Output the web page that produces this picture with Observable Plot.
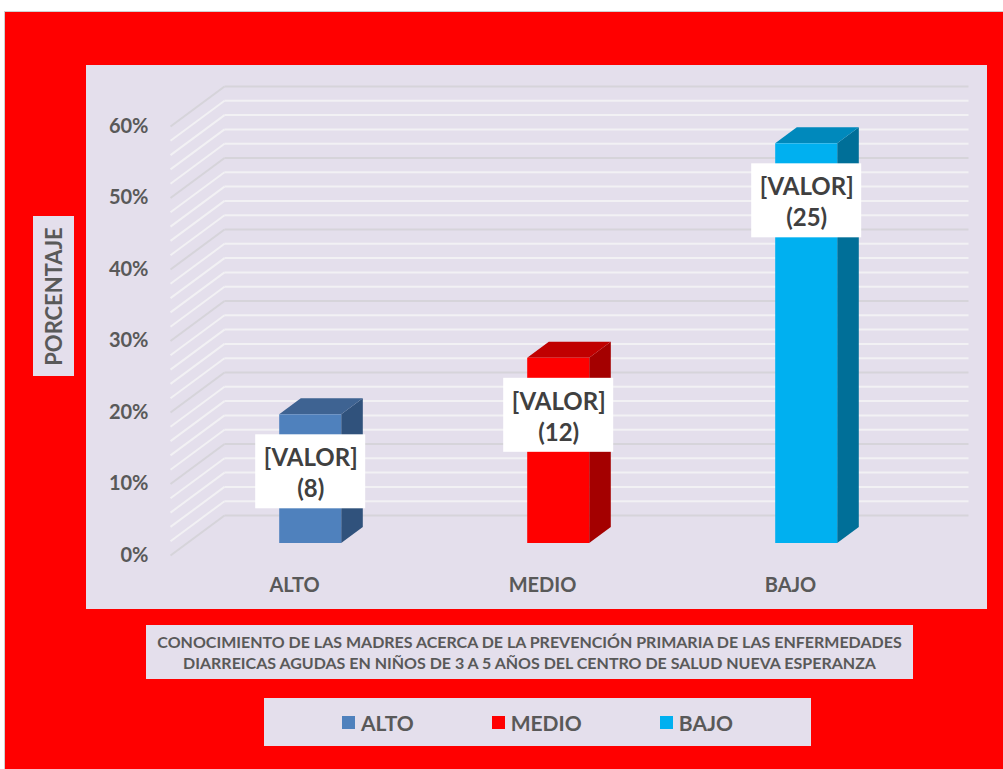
<!DOCTYPE html>
<html>
<head>
<meta charset="utf-8">
<script src="https://cdn.jsdelivr.net/npm/d3@7"></script>
<script src="https://cdn.jsdelivr.net/npm/@observablehq/plot@0.6"></script>
<style>
  html, body { margin: 0; padding: 0; background: #ffffff; }
  body { width: 1003px; height: 769px; position: relative; overflow: hidden; font-family: Lato, "Open Sans", sans-serif; }
  .abs { position: absolute; }
  #frame { left: 4px; top: 11px; width: 999px; height: 758px; background: #FF0000; border-top: 1px solid #D0D0D0; border-left: 1px solid #D0D0D0; box-sizing: border-box; }
  #panel { left: 86px; top: 65px; width: 901px; height: 544px; background: #E4DFEC; }
  #ylab { left: 33px; top: 216px; width: 41px; height: 160px; background: #E4DFEC; display: flex; align-items: center; justify-content: center; }
  #ylab span { transform: rotate(-90deg); white-space: nowrap; font-weight: 700; font-size: 22px; color: #595959; }
  #title { left: 146px; top: 625px; width: 767px; height: 54px; background: #E4DFEC; display: flex; flex-direction: column; align-items: center; justify-content: center; font-weight: 700; font-size: 16px; line-height: 21px; color: #595959; white-space: nowrap; }
  #legend { left: 264px; top: 698px; width: 547px; height: 48px; background: #E4DFEC; display: flex; align-items: center; justify-content: center; gap: 78px; }
  .item { display: flex; align-items: center; gap: 6px; font-weight: 700; font-size: 21px; color: #595959; }
  .sw { width: 13px; height: 13px; }
  #chart { left: 0; top: 0; }
</style>
</head>
<body>
<div id="frame" class="abs"></div>
<div id="panel" class="abs"></div>
<div id="ylab" class="abs"><span id="ylabtext"></span></div>
<div id="title" class="abs"></div>
<div id="legend" class="abs"></div>
<div id="chart" class="abs"></div>
<script>
// ---- data ----
const categories = ["ALTO", "MEDIO", "BAJO"];
const percentages = [18.0, 25.9, 55.9];
const counts = [8, 12, 25];
const yTicks = [0, 10, 20, 30, 40, 50, 60];
const frontColors = ["#4F81BD", "#FF0000", "#00B0F0"];
const sideColors = ["#30527C", "#A40000", "#006F98"];
const topColors = ["#3E6392", "#C00000", "#0089BC"];
const yTitle = "PORCENTAJE";
const titleLines = [
  "CONOCIMIENTO DE LAS MADRES ACERCA DE LA PREVENCIÓN PRIMARIA DE LAS ENFERMEDADES",
  "DIARREICAS AGUDAS EN NIÑOS DE 3 A 5 AÑOS DEL CENTRO DE SALUD NUEVA ESPERANZA"
];

// ---- 3D geometry (in data units of the scales) ----
const DX = 54 / 248;     // depth shift along x (category units)
const DY = 40 / 7.15;    // depth shift along y (percent units)
const F0 = 0.3, F1 = 0.7; // bar occupies depth 0.3..0.7
const HALF = 0.125;      // half bar width (category units)

const gridVals = d3.range(0, 61, 2);
const grid = gridVals.map(v => ({v, major: v % 10 === 0}));

const bars = categories.map((c, i) => {
  const cx = i + 0.5 + F0 * DX;
  return {c, i, v: percentages[i], n: counts[i], xl: cx - HALF, xr: cx + HALF, cx};
});

const marks = [];
// side wall diagonals and back wall lines
for (const major of [false, true]) {
  const g = grid.filter(d => d.major === major);
  const stroke = major ? "#D6D4DA" : "#F2F1F4";
  marks.push(Plot.link(g, {x1: 0, y1: d => d.v, x2: DX, y2: d => d.v + DY, stroke, strokeWidth: 2}));
  marks.push(Plot.link(g, {x1: DX, y1: d => d.v + DY, x2: 3 + DX, y2: d => d.v + DY, stroke, strokeWidth: 2}));
}
// bars
for (const b of bars) {
  marks.push(Plot.areaY([
    {x: b.xr, y1: F0 * DY, y2: b.v + F0 * DY},
    {x: b.xr + (F1 - F0) * DX, y1: F1 * DY, y2: b.v + F1 * DY}
  ], {x: "x", y1: "y1", y2: "y2", fill: sideColors[b.i]}));
  marks.push(Plot.areaX([
    {y: b.v + F0 * DY, x1: b.xl, x2: b.xr},
    {y: b.v + F1 * DY, x1: b.xl + (F1 - F0) * DX, x2: b.xr + (F1 - F0) * DX}
  ], {y: "y", x1: "x1", x2: "x2", fill: topColors[b.i]}));
  marks.push(Plot.rect([b], {x1: "xl", x2: "xr", y1: F0 * DY, y2: d => d.v + F0 * DY, fill: frontColors[b.i]}));
}
// data labels
marks.push(Plot.rect(bars, {x1: "cx", x2: "cx", y1: d => d.v + F0 * DY, y2: d => d.v + F0 * DY,
  insetLeft: -55, insetRight: -55, insetTop: -37, insetBottom: -37, dy: 57, fill: "white"}));
marks.push(Plot.text(bars, {x: "cx", y: d => d.v + F0 * DY, dy: 57, text: d => `[VALOR]\n(${d.n})`,
  fontSize: 24, fontWeight: 700, lineHeight: 1.3, fill: "#404040"}));
// category labels
marks.push(Plot.text(bars, {x: d => d.i + 0.5, y: 0, dy: 30, text: "c", fontSize: 20, fontWeight: 700, fill: "#595959"}));
// y axis
marks.push(Plot.axisY({ticks: yTicks, tickFormat: d => d + "%", tickSize: 0, tickPadding: 22,
  fontSize: 20, fontWeight: 700, color: "#595959", label: null}));

const chart = Plot.plot({
  width: 1003,
  height: 769,
  marginLeft: 170,
  marginRight: 89,
  marginTop: 126,
  marginBottom: 214,
  x: {type: "linear", domain: [0, 3], axis: null},
  y: {type: "linear", domain: [0, 60]},
  style: {background: "transparent", overflow: "visible", fontFamily: "Lato, 'Open Sans', sans-serif"},
  marks
});
document.getElementById("chart").appendChild(chart);

// HTML texts
document.getElementById("ylabtext").textContent = yTitle;
const t = document.getElementById("title");
for (const line of titleLines) { const d = document.createElement("div"); d.textContent = line; t.appendChild(d); }
const lg = document.getElementById("legend");
categories.forEach((c, i) => {
  const it = document.createElement("div"); it.className = "item";
  const sw = document.createElement("div"); sw.className = "sw"; sw.style.background = frontColors[i];
  const tx = document.createElement("span"); tx.textContent = c;
  it.appendChild(sw); it.appendChild(tx); lg.appendChild(it);
});
</script>
</body>
</html>
